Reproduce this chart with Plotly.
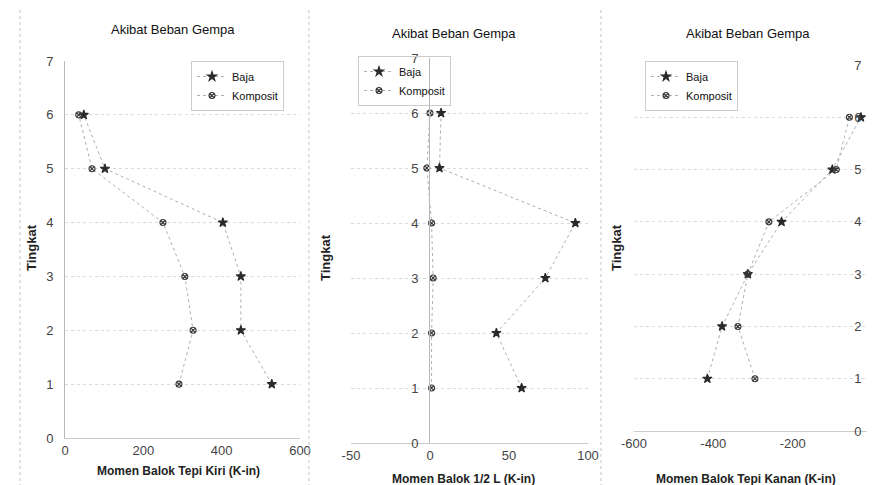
import plotly.graph_objects as go

# ---- data ----
levels = [1, 2, 3, 4, 5, 6]
kiri_baja = [528, 449, 449, 403, 102, 48]
kiri_komposit = [291, 327, 306, 250, 69, 35]
tengah_baja = [58, 42, 73, 92, 6, 7]
tengah_komposit = [1, 1, 2, 1, -2, 0]
kanan_baja = [-415, -378, -313, -228, -100, -28]
kanan_komposit = [-295, -338, -313, -260, -90, -57]

series_names = ["Baja", "Komposit"]
panel_title = "Akibat Beban Gempa"
x_titles = ["Momen Balok Tepi Kiri (K-in)", "Momen Balok 1/2 L (K-in)",
            "Momen Balok Tepi Kanan (K-in)"]
y_title = "Tingkat"
x_ticks = [[0, 200, 400, 600], [-50, 0, 50, 100], [-600, -400, -200, 0]]
x_tick_labels = [["0", "200", "400", "600"], ["-50", "0", "50", "100"],
                 ["-600", "-400", "-200", "0"]]
y_ticks = [0, 1, 2, 3, 4, 5, 6, 7]

W, H = 875, 485
FONT = "Liberation Sans, Arial, sans-serif"

def fx(px):
    return px / W

def fy(py):
    return (H - py) / H

fig = go.Figure()

panels = [
    (kiri_baja, kiri_komposit, "x", "y", "legend"),
    (tengah_baja, tengah_komposit, "x2", "y2", "legend2"),
    (kanan_baja, kanan_komposit, "x3", "y3", "legend3"),
]
sym = {"Baja": ("star", 7, "#2a2a2a"), "Komposit": ("circle-x-open", 6, "#3a3a3a")}
for baja, komp, xa, ya, lg in panels:
    for name, vals in zip(series_names, [baja, komp]):
        s, sz, c = sym[name]
        fig.add_trace(go.Scatter(
            x=vals, y=levels, name=name, mode="lines+markers",
            xaxis=xa, yaxis=ya, legend=lg,
            line=dict(color="#b0b0b0", width=1, dash="dot"),
            marker=dict(symbol=s, size=sz, color=c, line=dict(width=1.1, color=c)),
        ))

# geometry (pixels) of each panel's plotting area
geo = [
    dict(x0=57, x1=292, y0=430, y1=53, rng=[0, 600]),
    dict(x0=343, x1=580, y0=435, y1=50, rng=[-50, 100]),
    dict(x0=626, x1=864, y0=423, y1=57, rng=[-600, 0]),
]

axis_font = dict(family=FONT, size=13, color="#444")
for i, g in enumerate(geo):
    sx = "" if i == 0 else str(i + 1)
    fig.layout["xaxis" + sx] = dict(
        domain=[fx(g["x0"]), fx(g["x1"])], range=g["rng"],
        tickvals=x_ticks[i], ticktext=x_tick_labels[i],
        anchor="y" + sx, showgrid=False, zeroline=False,
        showline=True, linecolor="#cccccc", linewidth=1, automargin=False,
        tickfont=axis_font, ticks="", fixedrange=True,
    )
    yax = dict(
        domain=[fy(g["y0"]), fy(g["y1"])], range=[0, 7], tickvals=y_ticks,
        showgrid=True, gridcolor="#dadada", griddash="dot", gridwidth=1,
        zeroline=False, showline=True, linecolor="#b8b8b8", linewidth=1,
        automargin=False,
        tickfont=axis_font, ticks="", ticklabelstandoff=8, fixedrange=True,
    )
    if i == 0:
        yax.update(anchor="x")
    elif i == 1:
        yax.update(anchor="free", position=fx(421), side="left")
    else:
        yax.update(anchor="free", position=fx(864), side="left")
    fig.layout["yaxis" + sx] = yax

# legends
leg_common = dict(
    bgcolor="rgba(0,0,0,0)", bordercolor="#cccccc", borderwidth=1,
    font=dict(family=FONT, size=11, color="#111"),
    xanchor="left", yanchor="top", itemwidth=30, tracegroupgap=0,
)
fig.layout["legend"] = dict(x=fx(183), y=fy(53), **leg_common)
fig.layout["legend2"] = dict(x=fx(350), y=fy(48), **leg_common)
fig.layout["legend3"] = dict(x=fx(637), y=fy(53), **leg_common)

annotations = []
title_pos = [(165, 22), (446, 25), (740, 25)]
xt_pos = [(170, 463), (455, 471), (738, 471)]
yt_pos = [(23, 240), (318, 250), (608, 240)]
for i in range(3):
    annotations.append(dict(text=panel_title, x=fx(title_pos[i][0]), y=fy(title_pos[i][1]),
                            xref="paper", yref="paper", showarrow=False,
                            xanchor="center", yanchor="middle",
                            font=dict(family=FONT, size=13, color="#111")))
    annotations.append(dict(text="<b>%s</b>" % x_titles[i], x=fx(xt_pos[i][0]), y=fy(xt_pos[i][1]),
                            xref="paper", yref="paper", showarrow=False,
                            xanchor="center", yanchor="middle",
                            font=dict(family=FONT, size=12, color="#222")))
    annotations.append(dict(text="<b>%s</b>" % y_title, x=fx(yt_pos[i][0]), y=fy(yt_pos[i][1]),
                            xref="paper", yref="paper", showarrow=False, textangle=-90,
                            xanchor="center", yanchor="middle",
                            font=dict(family=FONT, size=13, color="#222")))

shapes = []
for px in [12, 301, 593]:
    shapes.append(dict(type="line", xref="paper", yref="paper",
                       x0=fx(px), x1=fx(px), y0=0, y1=1,
                       line=dict(color="#c4c4c4", width=1, dash="dot")))

fig.update_layout(
    width=W, height=H, margin=dict(l=0, r=0, t=0, b=0, autoexpand=False),
    paper_bgcolor="white", plot_bgcolor="white",
    font=dict(family=FONT), annotations=annotations, shapes=shapes,
    showlegend=True,
)

fig.write_html("out.html")
